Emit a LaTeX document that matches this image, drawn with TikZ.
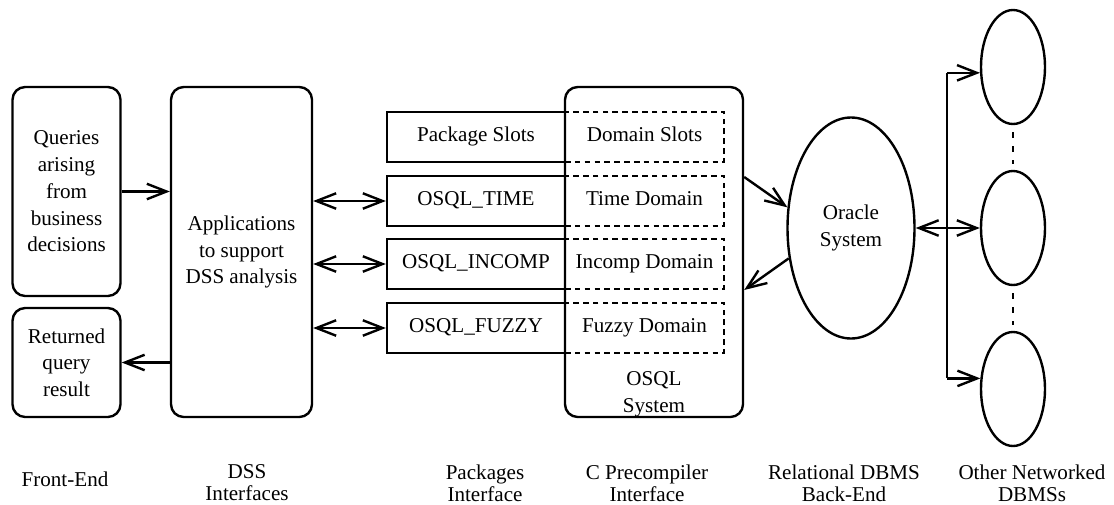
\documentclass[tikz,border=0pt]{standalone}
\usepackage{fontspec}
\setmainfont{Liberation Serif}
\newfontfamily\timesfont{Liberation Serif}
\usetikzlibrary{arrows.meta,shapes.geometric}

\begin{document}
\begin{tikzpicture}[line width=1.7pt,
  >={Straight Barb[length=14pt,width=11pt]},
  font=\timesfont\fontsize{15}{19}\selectfont,
  box/.style={draw,rounded corners=9pt,align=center,inner sep=0pt},
  slot/.style={draw,minimum width=4.45cm,minimum height=1.25cm,inner sep=0pt,text height=10.5pt,text depth=3.5pt},
  dslot/.style={draw,dash pattern=on 4pt off 3pt,minimum width=3.975cm,minimum height=1.25cm,inner sep=0pt,text height=10.5pt,text depth=3.5pt},
  db/.style={draw,ellipse,inner sep=0pt,align=center},
  dots/.style={dash pattern=on 4pt off 6pt,shorten <=5pt,shorten >=4pt},
  lbl/.style={align=center,font=\timesfont\fontsize{15}{15.5}\selectfont}]
\useasboundingbox (0,0) rectangle (27.85,12.6);
% front-end and DSS boxes
\node[box,minimum width=2.7cm,minimum height=5.225cm] (queries) at (1.6625,7.8125) {Queries\\arising\\from\\business\\decisions};
\node[box,minimum width=2.7cm,minimum height=2.725cm] (returned) at (1.6625,3.5375) {Returned\\query\\result};
\node[box,minimum width=3.525cm,minimum height=8.25cm] (apps) at (6.0375,6.3) {Applications\\to support\\DSS analysis};
\draw[->] (queries.east) -- (queries.east -| apps.west);
\draw[->] (apps.west |- returned.east) -- (returned.east);
% OSQL system with the package / domain slots
\node[box,minimum width=4.45cm,minimum height=8.25cm] (osql) at (16.35,6.3) {};
\node[align=center] (osqllbl) at (16.35,2.7375) {OSQL\\System};
\node[slot] (pslots) at (11.9,9.175) {Package Slots};
\node[slot] (ptime) at (11.9,7.575) {OSQL\_TIME};
\node[slot] (pincomp) at (11.9,6.0) {OSQL\_INCOMP};
\node[slot] (pfuzzy) at (11.9,4.4) {OSQL\_FUZZY};
\node[dslot] (dslots) at (16.1125,9.175) {Domain Slots};
\node[dslot] (dtime) at (16.1125,7.575) {Time Domain};
\node[dslot] (dincomp) at (16.1125,6.0) {Incomp Domain};
\node[dslot] (dfuzzy) at (16.1125,4.4) {Fuzzy Domain};
\foreach \p in {ptime,pincomp,pfuzzy}
  \draw[<->] (apps.east |- \p.west) -- (\p.west);
% back-end and the networked DBMSs
\node[db,minimum width=3.175cm,minimum height=5.525cm] (oracle) at (21.275,6.9) {Oracle\\System};
\draw[->] ([yshift=1.875cm]osql.east) -- (oracle.162);
\draw[->] (oracle.206) -- ([yshift=-0.95cm]osql.east);
\node[db,minimum width=1.6cm,minimum height=2.85cm] (e1) at (25.325,10.925) {};
\node[db,minimum width=1.6cm,minimum height=2.85cm] (e2) at (25.325,6.9) {};
\node[db,minimum width=1.6cm,minimum height=2.85cm] (e3) at (25.325,2.875) {};
\draw[dots] (e1.south) -- (e2.north);
\draw[dots] (e2.south) -- (e3.north);
\coordinate (bus) at (23.675,6.9);
\draw (bus |- e1.190) -- (bus |- e3.162);
\draw[->] (bus |- e1.190) -- (e1.190);
\draw[->] (bus |- e3.162) -- (e3.162);
\draw[<->] (oracle.east) -- (e2.west);
% layer names
\node[lbl] (lfront) at (1.625,0.625) {Front-End};
\node[lbl] (ldss) at (6.175,0.525) {DSS\\Interfaces};
\node[lbl] (lpack) at (12.125,0.525) {Packages\\Interface};
\node[lbl] (lprec) at (16.175,0.525) {C Precompiler\\Interface};
\node[lbl] (lrel) at (21.1,0.525) {Relational DBMS\\Back-End};
\node[lbl] (lother) at (25.8,0.525) {Other Networked\\DBMSs};
\end{tikzpicture}
\end{document}
